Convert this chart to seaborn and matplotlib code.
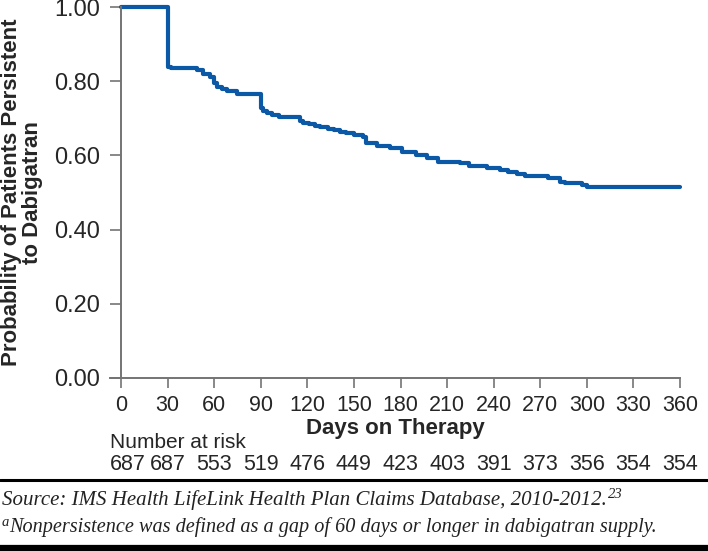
import numpy as np
import pandas as pd
import seaborn as sns
import matplotlib.pyplot as plt
from matplotlib.lines import Line2D
from matplotlib.transforms import blended_transform_factory

# Kaplan-Meier style persistence curve
days = [0, 30, 32, 49, 53, 57, 60, 62, 65, 68, 75, 90, 91.5, 94, 97, 102, 115, 117,
        121, 125, 128, 133, 137, 141, 145, 150, 156, 158, 165, 173, 181, 190, 197,
        204, 218, 224, 236, 244, 249, 255, 260, 275, 283, 286, 297, 300, 360]
persistence = [1.0, 0.838, 0.835, 0.83, 0.82, 0.81, 0.795, 0.784, 0.778, 0.774, 0.765,
               0.727, 0.72, 0.715, 0.709, 0.703, 0.693, 0.688, 0.684, 0.68, 0.677,
               0.672, 0.668, 0.664, 0.66, 0.655, 0.65, 0.633, 0.626, 0.62, 0.609,
               0.601, 0.593, 0.583, 0.58, 0.572, 0.566, 0.56, 0.555, 0.55, 0.544,
               0.539, 0.528, 0.525, 0.52, 0.515, 0.515]

tick_days = [0, 30, 60, 90, 120, 150, 180, 210, 240, 270, 300, 330, 360]
at_risk = [687, 687, 553, 519, 476, 449, 423, 403, 391, 373, 356, 354, 354]
y_ticks = [0.0, 0.2, 0.4, 0.6, 0.8, 1.0]

source_text = "Source: IMS Health LifeLink Health Plan Claims Database, 2010-2012."
note_text = "Nonpersistence was defined as a gap of 60 days or longer in dabigatran supply."

sns.set_theme(style="white")
plt.rcParams['font.family'] = ['Liberation Sans', 'DejaVu Sans']

W, H = 708, 551
fig = plt.figure(figsize=(W / 100, H / 100), dpi=100)

def fx(px):
    return px / W

def fy(py):
    return 1 - py / H

# axes: left edge at x-spine start, right at day 360
ax = fig.add_axes([fx(110), fy(378), fx(680) - fx(110), fy(7) - fy(378)])

df = pd.DataFrame({'days': days, 'persistence': persistence})
sns.lineplot(data=df, x='days', y='persistence', ax=ax, estimator=None,
             drawstyle='steps-post', color='#0a58a6', linewidth=3, clip_on=False)

axis_grey = '#747474'
ax.set_xlim(-7.1, 360)
ax.set_ylim(0, 1)
ax.spines['left'].set_position(('data', 0))
for s in ['top', 'right']:
    ax.spines[s].set_visible(False)
for s in ['left', 'bottom']:
    ax.spines[s].set_color(axis_grey)
    ax.spines[s].set_linewidth(1.4)

ax.set_xticks(tick_days)
ax.set_yticks(y_ticks)
ax.set_yticklabels([f"{v:.2f}" for v in y_ticks])
ax.tick_params(axis='y', direction='out', length=8, width=1.2, color=axis_grey,
               pad=7, labelsize=17, left=True)
ax.tick_params(axis='x', direction='out', length=7, width=1.2, color=axis_grey,
               pad=5, labelsize=15.5, bottom=True)

ax.set_xlabel("Days on Therapy", fontsize=16, fontweight='bold', labelpad=2)
ax.set_ylabel("Probability of Patients Persistent\nto Dabigatran", fontsize=16,
              fontweight='bold', linespacing=0.95)
ax.yaxis.label.set_verticalalignment('center')
ax.yaxis.set_label_coords((22 - 110) / (680 - 110), 0.5)

# number at risk table
fig.text(fx(110), fy(443), "Number at risk", fontsize=15, ha='left', va='center')
trans = blended_transform_factory(ax.transData, fig.transFigure)
for i, (d, n) in enumerate(zip(tick_days, at_risk)):
    # first count sits flush with the left margin, the rest are centred on ticks
    if i == 0:
        fig.text(fx(110), fy(464), str(n), fontsize=15.5, ha='left', va='center')
    else:
        ax.text(d, fy(464), str(n), transform=trans, fontsize=15.5,
                ha='center', va='center')

# rules
fig.add_artist(Line2D([0, 1], [fy(479.5), fy(479.5)], transform=fig.transFigure,
                      color='black', linewidth=2.2))
fig.add_artist(Line2D([0, 1], [fy(547.5), fy(547.5)], transform=fig.transFigure,
                      color='black', linewidth=4.5))

# footnotes with superscripts
serif = ['Liberation Serif', 'DejaVu Serif']
src = fig.text(fx(2), fy(505), source_text, fontsize=15, style='italic',
               family=serif, ha='left', va='baseline', color='#222222')
sup_a = fig.text(fx(2), fy(526), "a", fontsize=10.5, style='italic', family=serif,
                 ha='left', va='baseline', color='#222222')
fig.canvas.draw()
r = fig.canvas.get_renderer()
ext = src.get_window_extent(r)
fig.text(ext.x1 / W + fx(1), fy(498), "23", fontsize=10.5, style='italic', family=serif,
         ha='left', va='baseline', color='#222222')
ext_a = sup_a.get_window_extent(r)
fig.text(ext_a.x1 / W, fy(532), note_text, fontsize=14.6, style='italic',
         family=serif, ha='left', va='baseline', color='#222222')

fig.savefig("out.png", dpi=100)
